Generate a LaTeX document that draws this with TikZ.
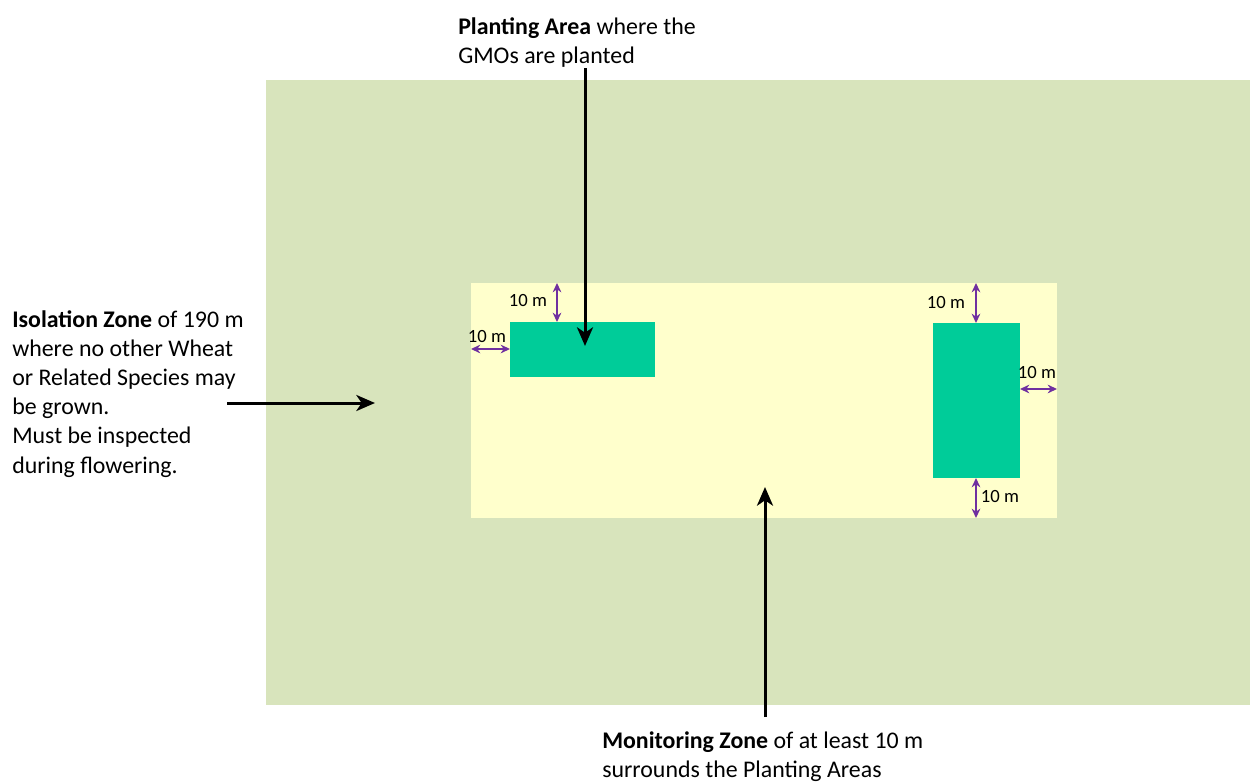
\documentclass[tikz,border=0pt]{standalone}
\usepackage{fontspec}
\setmainfont{Carlito}
\usetikzlibrary{arrows.meta}
\definecolor{fieldgreen}{HTML}{D8E4BC}
\definecolor{zoneyellow}{HTML}{FFFFCC}
\definecolor{plotteal}{HTML}{00CC99}
\definecolor{dimpurple}{HTML}{7030A0}
\begin{document}
\begin{tikzpicture}
    [x=0.75pt, y=-0.75pt,
    label text/.style={align=left, anchor=north west, inner sep=0pt,
      font=\fontsize{17.9}{21.9}\selectfont},
    dim text/.style={inner sep=0pt, font=\fontsize{14}{16}\selectfont},
    pointer/.style={line width=2.25pt, -{Stealth[length=14pt, width=12pt, inset=4pt]}},
    gap/.style={draw=dimpurple, line width=1.6pt,
      {Stealth[length=7pt, width=6.5pt]}-{Stealth[length=7pt, width=6.5pt]}}]
    \useasboundingbox (0,0) rectangle (1250,782);
    % zones
    \fill[fieldgreen] (266,80) rectangle (1250,705);
    \fill[zoneyellow] (471,283) rectangle (1057,518);
    \fill[plotteal] (510,322) rectangle (655,377);
    \fill[plotteal] (933,323) rectangle (1020,478);
    % texts
    \node[label text] (planting) at (458,17)
      {\textbf{Planting Area} where the\\GMOs are planted};
    \node[label text] (isolation) at (12,310)
      {\textbf{Isolation Zone} of 190 m\\where no other Wheat\\or Related Species may\\be grown.\\Must be inspected\\during flowering.};
    \node[label text] (monitoring) at (602,731)
      {\textbf{Monitoring Zone} of at least 10 m\\surrounds the Planting Areas};
    % pointers
    \coordinate (planting end) at (585,346);
    \coordinate (isolation end) at (375,403);
    \coordinate (monitoring end) at (765,487);
    \draw[pointer] (585,68) -- (planting end);
    \draw[pointer] (227,403) -- (isolation end);
    \draw[pointer] (765,717) -- (monitoring end);
    % 10 m gaps
    \draw[gap] (557,283) -- (557,322);
    \draw[gap] (471,349) -- (510,349);
    \draw[gap] (976,283) -- (976,323);
    \draw[gap] (1020,389) -- (1057,389);
    \draw[gap] (976,478) -- (976,518);
    \node[dim text] (gap a) at (528,301) {10 m};
    \node[dim text] (gap b) at (487,337) {10 m};
    \node[dim text] (gap c) at (946,303) {10 m};
    \node[dim text] (gap d) at (1037,373) {10 m};
    \node[dim text] (gap e) at (1000,497) {10 m};
\end{tikzpicture}
\end{document}
